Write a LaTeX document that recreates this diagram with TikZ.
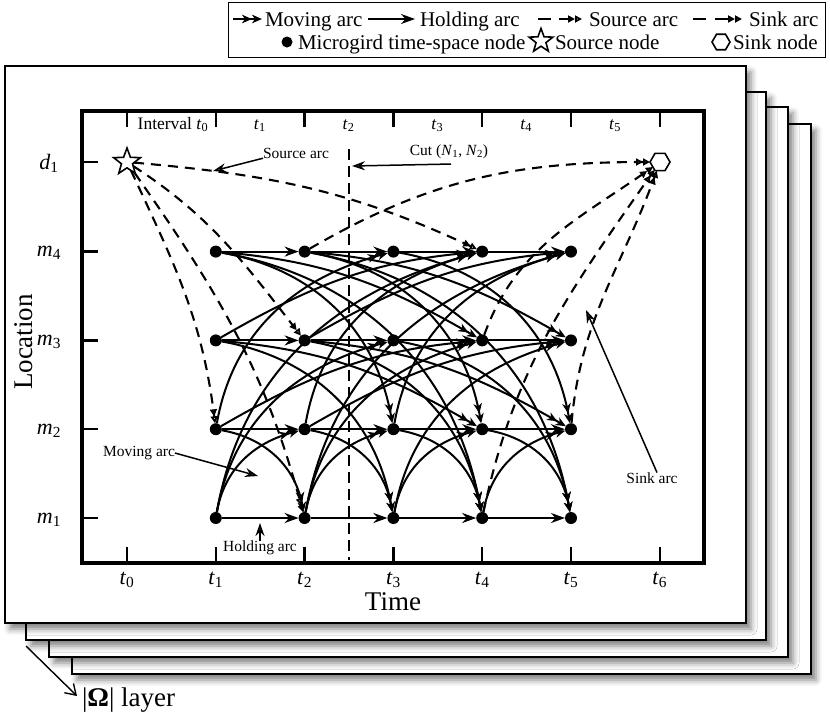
\documentclass[tikz,border=0pt]{standalone}
\usepackage{fontspec}
\setmainfont{Liberation Serif}
\usetikzlibrary{arrows.meta,shapes.geometric,shadows.blur,calc}
\newcommand\tlab[1]{\textit{t}\textsubscript{#1}}
\newcommand\mlab[1]{\textit{m}\textsubscript{#1}}
\begin{document}
\begin{tikzpicture}[x=1pt,y=1pt,
  every node/.style={inner sep=0pt, outer sep=0pt},
  mnode/.style={circle, fill=black, minimum size=12pt},
  page/.style={draw, line width=2.8pt, fill=white,
    blur shadow={shadow xshift=5pt, shadow yshift=-6pt, shadow blur radius=6pt, shadow opacity=50}},
  holding/.style={line width=2.1pt, -{Stealth[length=14pt,width=10pt,inset=4.5pt]}},
  moving/.style={line width=2pt, -{Stealth[length=10pt,width=8.5pt,inset=3pt] Stealth[length=10pt,width=8.5pt,inset=3pt]}},
  mup/.style={moving, out=80, in=195},
  mdown/.style={moving, out=-10, in=100},
  mgup/.style={moving, out=30, in=185},
  mgdown/.style={moving, out=-5, in=150},
  srcarc/.style={line width=2.1pt, dash pattern=on 10pt off 7pt, -{Triangle[open,length=7pt,width=7pt] Triangle[open,length=7pt,width=7pt]}},
  snkarc/.style={line width=2.1pt, dash pattern=on 10pt off 7pt, -{Triangle[length=7pt,width=7pt] Triangle[length=7pt,width=7pt]}},
  pointer/.style={line width=1.5pt, -{Stealth[length=13pt,width=9pt]}},
  cutline/.style={line width=2pt, dash pattern=on 11pt off 6pt},
  leg/.style={font=\fontsize{21}{24}\selectfont},
  lab/.style={font=\fontsize{15.5}{18}\selectfont},
  toplab/.style={font=\fontsize{17.5}{20}\selectfont},
  axl/.style={font=\fontsize{22}{26}\selectfont},
  big/.style={font=\fontsize{27}{30}\selectfont},
  srcshape/.style={star, star points=5, star point ratio=2.4, draw, line width=1.6pt, fill=white},
  snkshape/.style={regular polygon, regular polygon sides=6, draw, line width=1.6pt, fill=white},
  tick/.style={line width=2.4pt}
  ]
\useasboundingbox (0,0) rectangle (830,-724);

% ---- stacked pages
\draw[page] (72,-124) rectangle (811,-674);
\draw[page] (49,-107) rectangle (788,-657);
\draw[page] (26,-92) rectangle (766,-640);
\draw[page] (5,-66) rectangle (746,-623);

% ---- legend
\node[draw, line width=1.8pt, minimum width=597pt, minimum height=55pt] (legend) at (527,-30) {};
\coordinate (lm0) at (233,-19); \coordinate (lm1) at (262,-19);
\draw[moving] (lm0) -- (lm1);
\node[leg, anchor=base west] (lmt) at (265,-26) {Moving arc};
\coordinate (lh0) at (368,-19); \coordinate (lh1) at (415,-19);
\draw[holding] (lh0) -- (lh1);
\node[leg, anchor=base west] (lht) at (420,-26) {Holding arc};
\coordinate (ls0) at (538,-19); \coordinate (ls1) at (582,-19);
\draw[srcarc, dash pattern=on 13pt off 8pt] (ls0) -- (ls1);
\node[leg, anchor=base west] (lst) at (589,-26) {Source arc};
\coordinate (lk0) at (693,-19); \coordinate (lk1) at (742,-19);
\draw[snkarc, dash pattern=on 13pt off 9pt] (lk0) -- (lk1);
\node[leg, anchor=base west] (lkt) at (749,-26) {Sink arc};
\node[mnode, minimum size=11pt] (ldot) at (287,-42) {};
\node[leg, anchor=base west] (ldt) at (298,-49) {Microgird time-space node};
\node[srcshape, minimum size=25pt] (lstar) at (541,-41) {};
\node[leg, anchor=base west] (lsnt) at (555,-49) {Source node};
\node[snkshape, minimum size=18pt] (lhex) at (721,-42) {};
\node[leg, anchor=base west] (lsk) at (733,-49) {Sink node};

% ---- plot frame and ticks
\draw[line width=4.5pt] (82,-111) rectangle (704,-563);
\foreach \i in {0,...,6}{
  \draw[tick] ({127+88.8*\i},-111) -- ({127+88.8*\i},-127);
  \draw[tick] ({127+88.8*\i},-563) -- ({127+88.8*\i},-547);
  \node[axl, anchor=base] (bt\i) at ({127+88.8*\i},-584) {\tlab{\i}};
}
\foreach \yy in {162,251.6,340.4,429.2,518}{
  \draw[tick] (82,-\yy) -- (98,-\yy);
}
% top interval labels
\node[toplab, anchor=base] (it0) at (173,-129) {Interval \tlab{0}};
\foreach \i in {1,...,5}{
  \node[toplab, anchor=base] (it\i) at ({171+88.8*\i},-129) {\tlab{\i}};
}
% left labels
\node[axl] (ld1) at (49,-163) {\textit{d}\textsubscript{1}};
\node[axl] (lm4) at (49,-253) {\mlab{4}};
\node[axl] (lm3) at (49,-342) {\mlab{3}};
\node[axl] (lm2) at (49,-431) {\mlab{2}};
\node[axl] (lm1) at (49,-520) {\mlab{1}};
\node[big, rotate=90] (lloc) at (24,-342) {Location};
\node[big, anchor=base] (ltime) at (393,-610) {Time};

% ---- cut
\coordinate (cuttop) at (349,-149);
\coordinate (cutbot) at (349,-560);
\draw[cutline] (cuttop) -- (cutbot);

% ---- nodes
\node[srcshape, minimum size=28pt] (src) at (127,-162) {};
\node[snkshape, minimum size=20pt] (snk) at (660,-162) {};
\foreach \t in {1,...,5}{
  \foreach \m in {1,...,4}{
    \node[mnode] (n\t\m) at ({127+88.8*\t},{-518+88.8*(\m-1)}) {};
  }
}

% ---- holding arcs
\foreach \m in {1,...,4}{
  \foreach \t [evaluate=\t as \u using int(\t+1)] in {1,...,4}{
    \draw[holding] (n\t\m) -- (n\u\m);
  }
}

% ---- moving arcs
% m1 <-> m2
\draw[mup] (n11) to (n22);
\draw[mup] (n21) to (n32);
\draw[mup] (n31) to (n42);
\draw[mup] (n41) to (n52);
\draw[mdown] (n12) to (n21);
\draw[mdown] (n22) to (n31);
\draw[mdown] (n32) to (n41);
\draw[mdown] (n42) to (n51);
% m1 <-> m3
\draw[mup] (n11) to (n33);
\draw[mup] (n21) to (n43);
\draw[mup] (n31) to (n53);
\draw[mdown] (n13) to (n31);
\draw[mdown] (n23) to (n41);
\draw[mdown] (n33) to (n51);
% m2 <-> m4
\draw[mup] (n12) to (n34);
\draw[mup] (n22) to (n44);
\draw[mup] (n32) to (n54);
\draw[mdown] (n14) to (n32);
\draw[mdown] (n24) to (n42);
\draw[mdown] (n34) to (n52);
% m1 <-> m4
\draw[mup] (n11) to (n44);
\draw[mup] (n21) to (n54);
\draw[mdown] (n14) to (n41);
\draw[mdown] (n24) to (n51);
% m3 <-> m4 and m2 <-> m3 (gentle)
\draw[mgup] (n13) to (n44);
\draw[mgup] (n23) to (n54);
\draw[mgdown] (n14) to (n43);
\draw[mgdown] (n24) to (n53);
\draw[mgup] (n12) to (n43);
\draw[mgup] (n22) to (n53);
\draw[mgdown] (n13) to (n42);
\draw[mgdown] (n23) to (n52);

% ---- source arcs
\draw[srcarc] (src) to[out=-5,in=155] (n44);
\draw[srcarc] (src) to[out=-33,in=128] (n23);
\draw[srcarc] (src) to[out=-55,in=105] (n21);
\draw[srcarc] (src) to[out=-65,in=97] (n12);

% ---- sink arcs
\draw[snkarc] (n24) to[out=30,in=180] (snk);
\draw[snkarc] (n43) to[out=70,in=215] (snk);
\draw[snkarc] (n41) to[out=78,in=235] (snk);
\draw[snkarc] (n52) to[out=85,in=250] (snk);

% ---- annotations
\node[lab] (lsrc) at (296,-153) {Source arc};
\coordinate (srcptr) at (213,-171);
\draw[pointer] (lsrc.south west) -- (srcptr);

\node[lab] (lcut) at (449,-152) {Cut (\textit{N}\textsubscript{1}, \textit{N}\textsubscript{2})};
\coordinate (cutptr) at (352,-166);
\draw[pointer] ([xshift=2pt,yshift=-5pt]lcut.south) -- (cutptr);

\node[lab] (lmove) at (139,-453) {Moving arc};
\coordinate (moveptr) at (258,-476);
\draw[pointer] (lmove.east) -- (moveptr);

\node[lab] (lhold) at (260,-548) {Holding arc};
\coordinate (holdptr) at (260,-523);
\draw[pointer] (lhold.north) -- (holdptr);

\node[lab] (lsink) at (652,-478) {Sink arc};
\coordinate (sinkptr) at (586,-310);
\draw[pointer] ([xshift=5pt]lsink.north) -- (sinkptr);

% ---- layer label
\coordinate (lay0) at (26,-646);
\node[big, anchor=west] (llayer) at (82,-700) {|\textbf{Ω}| layer};
\draw[line width=1.4pt, -{Straight Barb[length=10pt,width=13pt]}] (lay0) -- ([xshift=-5pt,yshift=4pt]llayer.west);
\end{tikzpicture}
\end{document}
